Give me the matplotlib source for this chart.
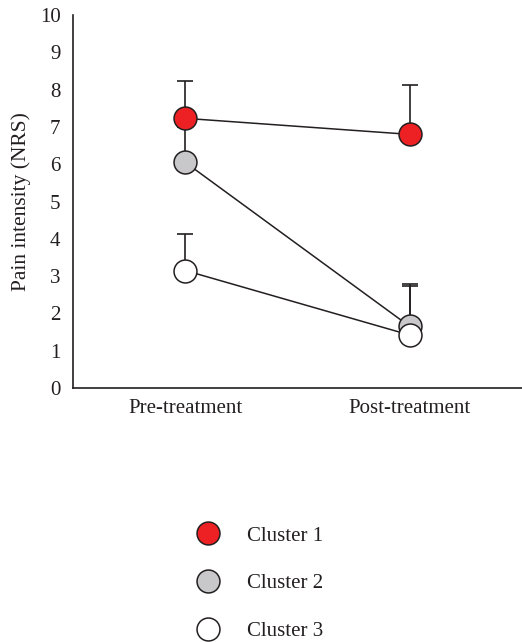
import matplotlib
matplotlib.use('Agg')
import matplotlib.pyplot as plt
from matplotlib.lines import Line2D

plt.rcParams['font.family'] = 'Liberation Serif'

# data
phases = ['Pre-treatment', 'Post-treatment']
clusters = ['Cluster 1', 'Cluster 2', 'Cluster 3']
means_c1 = [7.23, 6.80]
means_c2 = [6.05, 1.65]
means_c3 = [3.15, 1.42]
sd_c1 = [1.00, 1.32]
sd_c2 = [0.95, 1.15]
sd_c3 = [0.99, 1.32]
colors = ['#ed2024', '#c8c8ca', '#ffffff']

edge = '#231f20'
fig = plt.figure(figsize=(5.22, 6.42), dpi=100)
ax = fig.add_axes([0.140, 0.3956, 0.86, 0.581])

xs = [0, 1]
series = [(means_c1, sd_c1), (means_c2, sd_c2), (means_c3, sd_c3)]
for (m, s), c, lab in zip(series, colors, clusters):
    ax.errorbar(xs, m, yerr=[[0, 0], s], fmt='none', ecolor=edge,
                elinewidth=1.2, capsize=6, capthick=1.2, zorder=1)
for (m, s), c, lab in zip(series, colors, clusters):
    ax.plot(xs, m, color=edge, lw=1.1, zorder=2)
for (m, s), c, lab in zip(series, colors, clusters):
    ax.plot(xs, m, ls='none', marker='o', ms=16.5, mfc=c, mec=edge,
            mew=1.1, zorder=3)

ax.set_xlim(-0.5, 1.5)
ax.set_ylim(0, 10)
ax.set_yticks(range(0, 11))
ax.set_xticks(xs)
ax.set_xticklabels(phases)
ax.tick_params(length=0, labelsize=15, colors='#231f20', pad=8)
ax.tick_params(axis='y', pad=9)
ax.spines['top'].set_visible(False)
ax.spines['right'].set_visible(False)
for sp in ['left', 'bottom']:
    ax.spines[sp].set_color(edge)
    ax.spines[sp].set_linewidth(1.2)
ax.set_ylabel('Pain intensity (NRS)', fontsize=15.5, color='#231f20', labelpad=6)

handles = [Line2D([], [], ls='none', marker='o', ms=16.5, mfc=c, mec=edge, mew=1.1)
           for c in colors]
fig.legend(handles, clusters, loc='upper left', bbox_to_anchor=(0.322, 0.21),
           frameon=False, fontsize=15, labelspacing=1.35, handletextpad=0.9,
           labelcolor='#231f20')

fig.savefig('out.png', dpi=100)
